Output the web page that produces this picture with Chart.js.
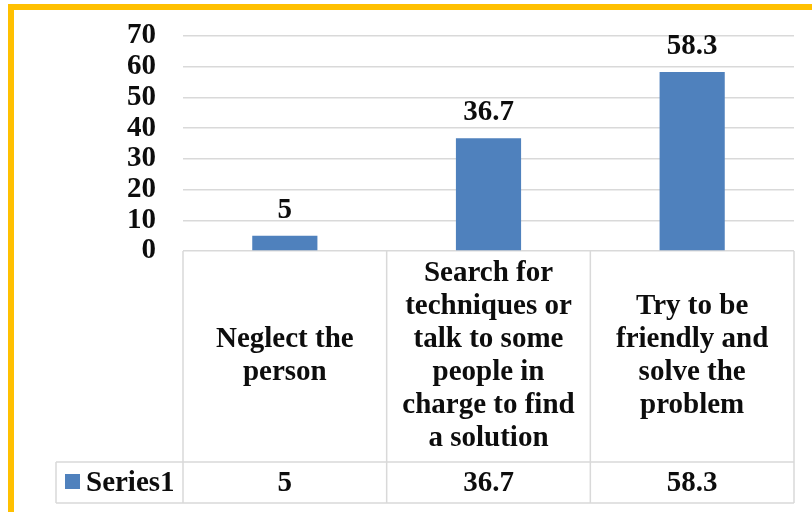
<!DOCTYPE html>
<html>
<head>
<meta charset="utf-8">
<script src="https://cdn.jsdelivr.net/npm/chart.js@4"></script>
<style>
  html, body { margin: 0; padding: 0; background: #fff; }
  #wrap { position: relative; width: 812px; height: 512px; overflow: hidden; }
  #frame {
    position: absolute; left: 8px; top: 4px; right: 0; bottom: 0;
    border-top: 6px solid #ffc000; border-left: 6px solid #ffc000;
  }
  canvas { position: absolute; left: 0; top: 0; }
</style>
</head>
<body>
<div id="wrap">
  <div id="frame"></div>
  <canvas id="chart" width="812" height="512"></canvas>
</div>
<script>
// ===== DATOS =====
const categories = [
    ["Neglect the", "person"],
    ["Search for", "techniques or", "talk to some", "people in", "charge to find", "a solution"],
    ["Try to be", "friendly and", "solve the", "problem"]
];
const seriesName = "Series1";
const seriesValues = [5, 36.7, 58.3];
const yMin = 0;
const yMax = 70;
const yStep = 10;

// ===== ESTILO =====
const barColor = "#4f81bd";
const lineColor = "#d9d9d9";
const textColor = "#0d0d0d";
const fontFamily = "'Liberation Serif', 'Times New Roman', serif";
const fontSize = 29;

// etiquetas de valor encima de cada barra
const barLabels = {
    id: "barLabels",
    afterDatasetsDraw(chart) {
        const ctx = chart.ctx;
        const meta = chart.getDatasetMeta(0);
        ctx.save();
        ctx.font = `bold ${fontSize}px ${fontFamily}`;
        ctx.fillStyle = textColor;
        ctx.textAlign = "center";
        ctx.textBaseline = "alphabetic";
        meta.data.forEach((bar, i) => {
            ctx.fillText(String(seriesValues[i]), bar.x, bar.y - 18);
        });
        ctx.restore();
    }
};

// tabla de datos debajo del eje x
const dataTable = {
    id: "dataTable",
    afterDraw(chart) {
        const ctx = chart.ctx;
        const area = chart.chartArea;
        const xs = chart.scales.x;
        const top = area.bottom;
        const rowTop = 462;
        const rowBottom = 503;
        const keyLeft = 56;
        const n = categories.length;
        const edges = [];
        for (let i = 0; i <= n; i++) {
            edges.push(area.left + (area.right - area.left) * i / n);
        }

        ctx.save();
        ctx.strokeStyle = lineColor;
        ctx.lineWidth = 1.5;
        ctx.beginPath();
        edges.forEach(x => { ctx.moveTo(x, top); ctx.lineTo(x, rowBottom); });
        ctx.moveTo(keyLeft, rowTop); ctx.lineTo(keyLeft, rowBottom);
        ctx.moveTo(keyLeft, rowTop); ctx.lineTo(area.right, rowTop);
        ctx.moveTo(keyLeft, rowBottom); ctx.lineTo(area.right, rowBottom);
        ctx.stroke();

        ctx.font = `bold ${fontSize}px ${fontFamily}`;
        ctx.fillStyle = textColor;
        ctx.textAlign = "center";
        ctx.textBaseline = "middle";
        const lh = 33;
        const midY = (top + rowTop) / 2;
        categories.forEach((lines, i) => {
            const cx = xs.getPixelForValue(i);
            const y0 = midY - (lines.length - 1) * lh / 2;
            lines.forEach((t, k) => ctx.fillText(t, cx, y0 + k * lh));
            ctx.fillText(String(seriesValues[i]), cx, (rowTop + rowBottom) / 2 + 1);
        });

        // clave de la serie
        ctx.fillStyle = barColor;
        ctx.fillRect(65, 474, 15, 15);
        ctx.fillStyle = textColor;
        ctx.textAlign = "left";
        ctx.fillText(seriesName, 86, (rowTop + rowBottom) / 2 + 1);
        ctx.restore();
    }
};

new Chart(document.getElementById("chart"), {
    type: "bar",
    data: {
        labels: categories.map(c => c.join(" ")),
        datasets: [{
            label: seriesName,
            data: seriesValues,
            backgroundColor: barColor,
            categoryPercentage: 1,
            barPercentage: 0.32
        }]
    },
    options: {
        responsive: false,
        animation: false,
        layout: { padding: { left: 0, right: 18, top: 36, bottom: 261 } },
        plugins: {
            legend: { display: false },
            tooltip: { enabled: false }
        },
        scales: {
            x: { display: false },
            y: {
                min: yMin,
                max: yMax,
                afterFit(scale) {
                    scale.width = 183;
                    scale.paddingTop = 0;
                    scale.paddingBottom = 0;
                },
                border: { display: false },
                grid: { color: lineColor, lineWidth: 1.5, drawTicks: false },
                ticks: {
                    stepSize: yStep,
                    autoSkip: false,
                    padding: 27,
                    color: textColor,
                    font: { family: fontFamily, size: fontSize, weight: "bold" }
                }
            }
        }
    },
    plugins: [barLabels, dataTable]
});
</script>
</body>
</html>
